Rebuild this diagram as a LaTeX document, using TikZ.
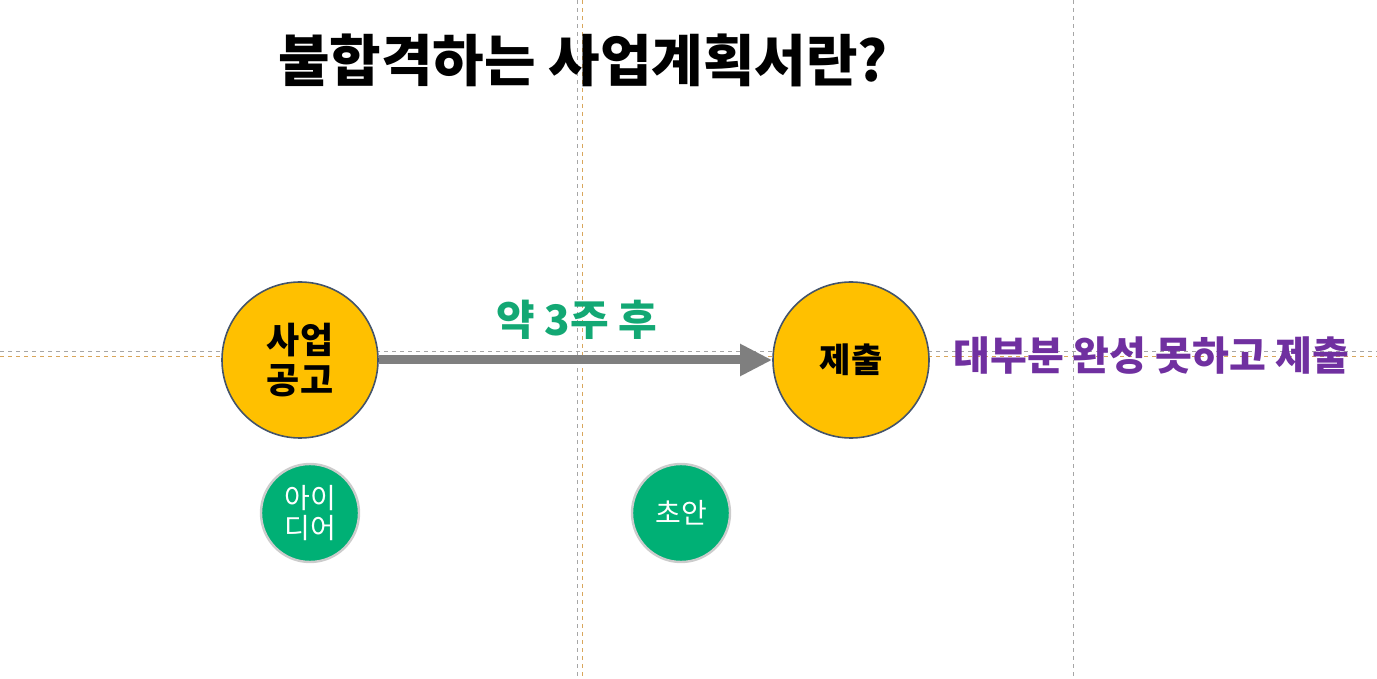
\documentclass[tikz,border=0pt]{standalone}
\usepackage{fontspec}
\usepackage{tikz}
\usetikzlibrary{arrows.meta,positioning}
\newfontfamily\kr{Noto Sans CJK KR}
\definecolor{potyellow}{HTML}{FFC000}
\definecolor{potedge}{HTML}{44546A}
\definecolor{potgreen}{HTML}{00B075}
\definecolor{weekgreen}{HTML}{13A874}
\definecolor{potpurple}{HTML}{7030A0}
\definecolor{arrgray}{HTML}{7F7F7F}
\definecolor{guidegray}{HTML}{A6A6A6}
\definecolor{guideorange}{HTML}{D9A65B}

\begin{document}
\begin{tikzpicture}[x=0.5pt,y=-0.5pt,font=\kr]

\tikzset{
bigcircle/.style={
    circle,
    draw=potedge,
    line width=0.8pt,
    fill=potyellow,
    minimum size=78pt,
    inner sep=0pt,
    align=center,
    font=\kr\bfseries\fontsize{18}{20}\selectfont
},
smallcircle/.style={
    circle,
    draw=black!20,
    line width=1.2pt,
    fill=potgreen,
    text=white,
    minimum size=49pt,
    inner sep=0pt,
    align=center,
    font=\kr\fontsize{14}{15}\selectfont
},
guide/.style={line width=0.5pt,dash pattern=on 2pt off 2pt},
arr/.style={-{Triangle[length=16pt,width=15pt]},line width=4.5pt,color=arrgray}
}

\useasboundingbox (0,0) rectangle (1377,679);

% guides
\draw[guide,guidegray] (577,0) -- (577,679);
\draw[guide,guideorange] (582,0) -- (582,679);
\draw[guide,guidegray] (1073,0) -- (1073,679);
\draw[guide,guidegray] (0,352) -- (1377,352);
\draw[guide,guideorange] (0,357) -- (1377,357);

\node[font=\kr\bfseries\fontsize{28}{30}\selectfont] (title) at (583,60) {불합격하는 사업계획서란?};

\node[bigcircle] (notice) at (300,360) {사업\\공고};
\node[bigcircle,font=\kr\bfseries\fontsize{17}{19}\selectfont] (submit) at (851,360) {제출};

\node[smallcircle] (idea) at (310,513) {아이\\디어};
\node[smallcircle] (draft) at (681,513) {초안};

\draw[arr] (notice.east) -- (submit.west);
\node[text=weekgreen,font=\kr\bfseries\fontsize{21}{23}\selectfont] (weeks) at (577,320) {약 3주 후};

\node[text=potpurple,font=\kr\bfseries\fontsize{20}{22}\selectfont,anchor=west,inner sep=0pt] (unfinished) at (953,356) {대부분 완성 못하고 제출};

\end{tikzpicture}
\end{document}
